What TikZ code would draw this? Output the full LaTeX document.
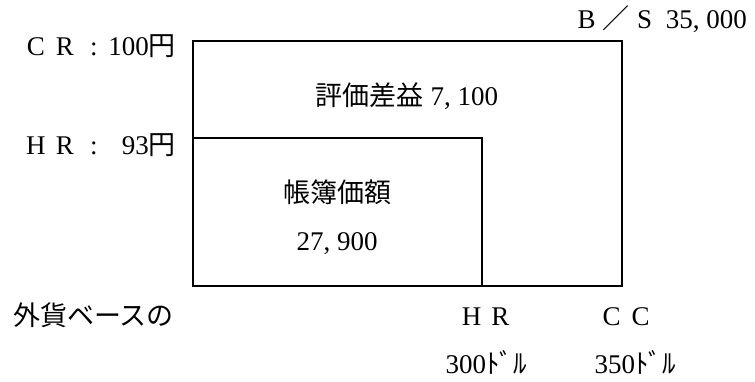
\documentclass[tikz,border=0pt]{standalone}
\usepackage{fontspec}
\setmainfont{Liberation Serif}
\newfontfamily\cjk{Noto Sans CJK JP}
\newcommand\fw[1]{\makebox[29pt]{#1}}
\newcommand\jp[1]{{\cjk #1}}
\begin{document}
\begin{tikzpicture}[x=1pt,y=-1pt,
  box/.style={line width=2.2pt},
  lbl/.style={inner sep=0pt, font=\fontsize{27}{32}\selectfont}]
\useasboundingbox (0,0) rectangle (755,381);
% boxes
\coordinate (otl) at (193,41);
\coordinate (obr) at (622,286);
\coordinate (itl) at (193,138);
\coordinate (ibr) at (482,286);
\draw[box] (otl) rectangle (obr);
\draw[box] (itl) -| (ibr);
% labels
\node[lbl, anchor=base east] (cr) at (176,55) {\fw{C}\fw{R}\fw{:}100\jp{円}};
\node[lbl, anchor=base east] (hr) at (176,154) {\fw{H}\fw{R}\fw{:}\phantom{1}93\jp{円}};
\node[lbl, anchor=base] (gain) at (407,105) {\jp{評価差益} 7, 100};
\node[lbl, anchor=base east] (bs) at (747,28) {\fw{B}\fw{\jp{／}}\fw{S} 35, 000};
\node[lbl, anchor=base] (book) at (337,202) {\jp{帳簿価額}};
\node[lbl, anchor=base] (bookv) at (337,250) {27, 900};
\node[lbl, anchor=base west] (fc) at (13,325) {\jp{外貨ベースの}};
\node[lbl, anchor=base] (hrb) at (486,325) {\fw{H}\fw{R}};
\node[lbl, anchor=base] (cc) at (626,325) {\fw{C}\fw{C}};
\node[lbl, anchor=base] (d300) at (486,373) {300\jp{ﾄﾞﾙ}};
\node[lbl, anchor=base] (d350) at (635,373) {350\jp{ﾄﾞﾙ}};
\end{tikzpicture}
\end{document}
